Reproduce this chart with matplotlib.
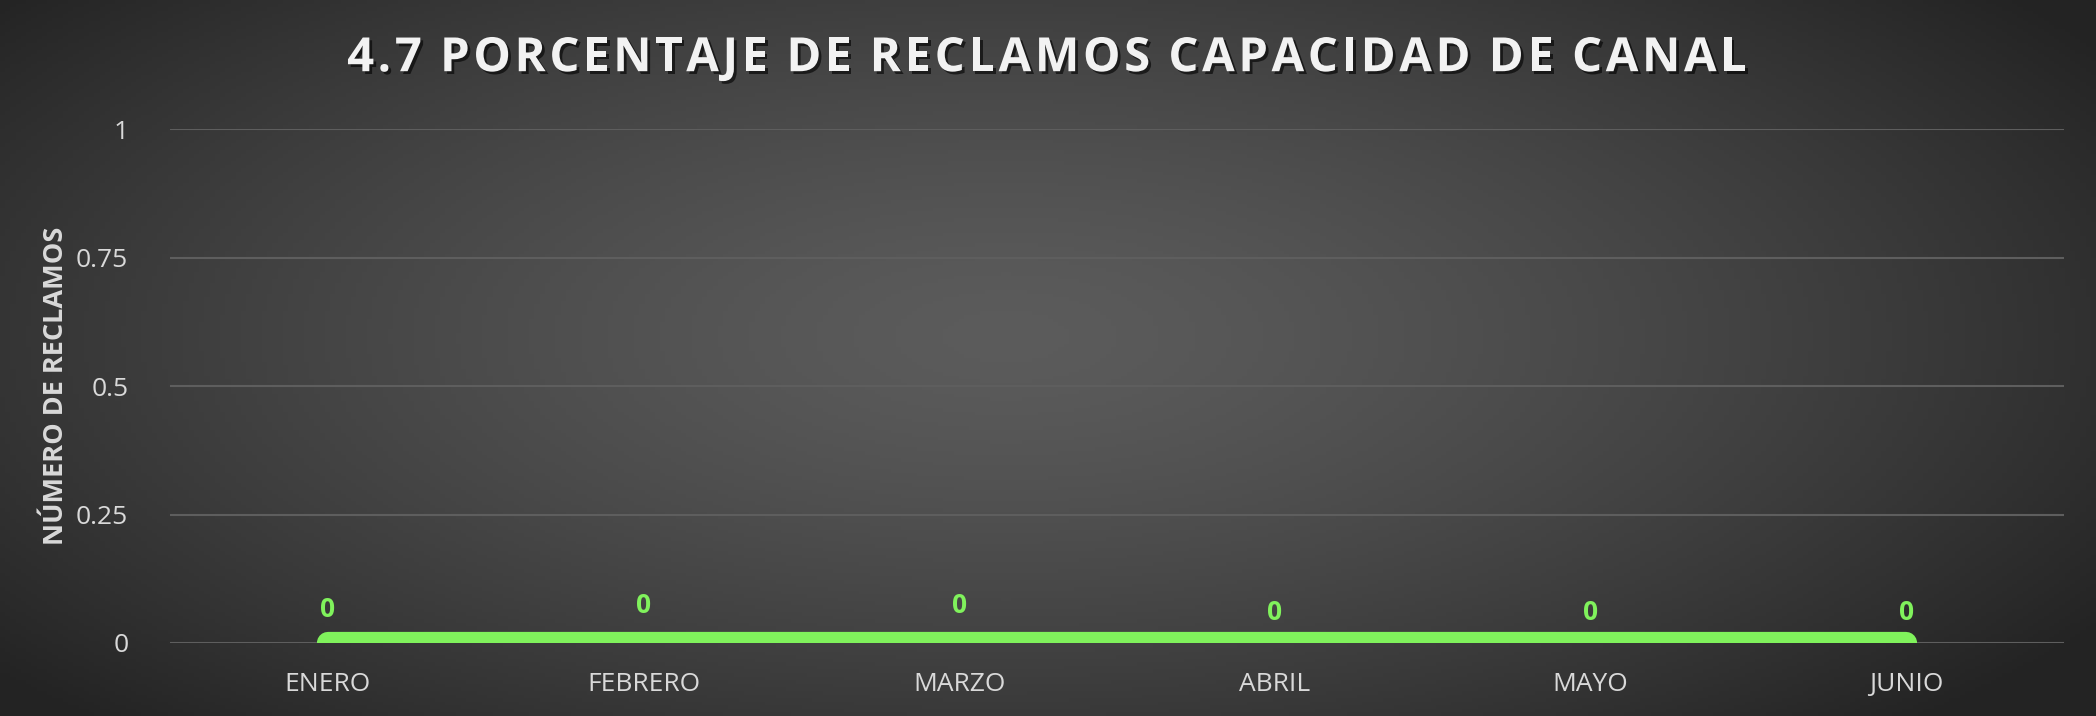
import numpy as np
import matplotlib
matplotlib.use('Agg')
import matplotlib.pyplot as plt
import matplotlib.patheffects as pe

# data
meses = ["ENERO", "FEBRERO", "MARZO", "ABRIL", "MAYO", "JUNIO"]
reclamos = [0, 0, 0, 0, 0, 0]
y_ticks = [0, 0.25, 0.5, 0.75, 1]
y_tick_labels = ["0", "0.25", "0.5", "0.75", "1"]

titulo = "4.7 PORCENTAJE DE RECLAMOS CAPACIDAD DE CANAL"
eje_y = "NÚMERO DE RECLAMOS"

verde = "#80f25c"
gris_txt = "#d9d9d9"

plt.rcParams['font.family'] = ['Open Sans', 'DejaVu Sans']

W, H = 2096, 716
fig = plt.figure(figsize=(W / 100, H / 100), dpi=100)

# fondo con degradado radial
bg = fig.add_axes([0, 0, 1, 1])
bg.set_axis_off()
gx, gy = np.meshgrid(np.linspace(0, 1, 400), np.linspace(0, 1, 200))
d = np.sqrt(((gx - 0.48) / 0.62) ** 2 + ((gy - 0.47) / 0.75) ** 2)
d = np.clip(d, 0, 1)
val = 0.36 - (0.36 - 0.14) * d ** 1.4
bg.imshow(np.dstack([val, val, val]), extent=[0, 1, 0, 1], aspect='auto', origin='upper')
bg.set_xlim(0, 1)
bg.set_ylim(0, 1)

ax = fig.add_axes([0.0811, 0.102, 0.9036, 0.7174])
ax.set_facecolor('none')
x = np.arange(len(meses))

ax.plot(x, reclamos, color=verde, lw=16, solid_capstyle='round', zorder=3)

offs = [2, 5, 5, 0, 0, 0]
for xi, v, o in zip(x, reclamos, offs):
    ax.annotate(str(v), (xi, v), xytext=(0, 12.5 + o), textcoords='offset points',
                ha='center', va='bottom', color=verde, fontsize=19, fontweight='bold')

ax.set_xlim(-0.5, len(meses) - 0.5)
ax.set_ylim(0, 1)
ax.set_yticks(y_ticks)
ax.set_yticklabels(y_tick_labels)
ax.set_xticks(x)
ax.set_xticklabels(meses)
ax.tick_params(axis='both', length=0, colors=gris_txt, labelsize=19)
ax.tick_params(axis='y', pad=30)
ax.tick_params(axis='x', pad=21)
ax.grid(axis='y', color='#5e5e5e', lw=1.5)
ax.set_axisbelow(True)
for s in ax.spines.values():
    s.set_visible(False)

ax.set_ylabel(eje_y, color=gris_txt, fontsize=19.5, fontweight='bold', labelpad=5)

# titulo con espaciado entre letras
renderer = fig.canvas.get_renderer()
tstyle = dict(color='#f2f2f2', fontsize=34, fontweight='bold', va='center', ha='left')
espacio = 3.6
anchos = []
for ch in titulo:
    t = fig.text(0, 0, ch if ch != ' ' else 'a', **tstyle)
    anchos.append(t.get_window_extent(renderer).width if ch != ' ' else 11.0)
    t.remove()
total = sum(anchos) + espacio * (len(titulo) - 1)
xc = 1047 - total / 2
sombra = [pe.withSimplePatchShadow(offset=(2, -2), shadow_rgbFace='black', alpha=0.6)]
for ch, w in zip(titulo, anchos):
    if ch != ' ':
        fig.text(xc / W, 0.918, ch, path_effects=sombra, **tstyle)
    xc += w + espacio

fig.savefig("out.png", dpi=100)
